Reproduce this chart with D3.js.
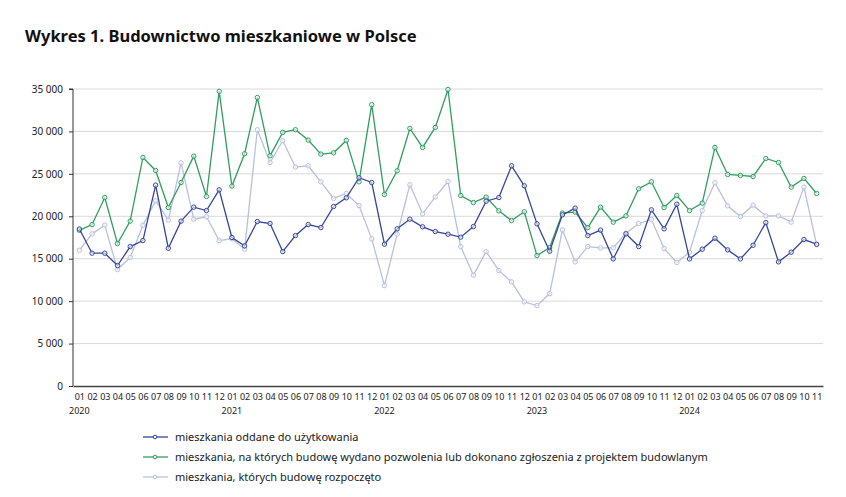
<!DOCTYPE html>
<html><head><meta charset="utf-8">
<script src="https://cdn.jsdelivr.net/npm/d3@7"></script>
<style>body{margin:0;background:#fff}svg{display:block}text{font-family:"Noto Sans","Open Sans",sans-serif}</style>
</head><body><svg id="c" width="846" height="497"></svg>
<script>
const years = [2020, 2021, 2022, 2023, 2024];
const months = [];
years.forEach(y => { for (let m = 1; m <= 12; m++) { if (y === 2024 && m > 11) break; months.push(y + "-" + String(m).padStart(2, "0")); } });

const oddane = [18500,15650,15650,14190,16430,17140,23670,16240,19430,21080,20680,23120,
  17500,16510,19380,19150,15840,17730,19030,18670,21150,22180,24540,23980,
  16710,18520,19660,18760,18200,17890,17540,18790,21780,22210,25950,23590,
  19110,15890,20170,20960,17730,18370,14980,17930,16430,20760,18520,21430,
  14980,16120,17420,16040,14980,16590,19260,14630,15770,17260,16710];
const pozwolenia = [18350,19030,22210,16790,19430,26930,25400,21030,23980,27090,22330,34720,
  23560,27370,34000,27130,29880,30200,28980,27330,27480,28940,24060,33150,
  22570,25360,30350,28110,30470,34950,22450,21620,22260,20640,19500,20530,
  15370,16310,20370,20490,18670,21080,19310,20050,23240,24060,21030,22450,
  20680,21550,28110,24930,24810,24690,26810,26340,23440,24460,22690];
const rozpoczete = [16000,17930,18950,13720,15140,18950,21820,19540,26300,19660,19940,17140,
  17350,16120,30200,26340,28900,25800,25950,24060,22100,22690,21270,17340,
  11830,17890,23710,20290,22290,24100,16430,13060,15840,13600,12270,9910,
  9470,10890,18400,14630,16430,16280,16290,18010,19150,19620,16200,14550,
  15770,20680,23950,21230,19970,21310,20050,20050,19310,23440,16630];
const yTicks = [0,5000,10000,15000,20000,25000,30000,35000];
const series = [
  {name:"mieszkania oddane do użytkowania", values: oddane, color:"#34479a"},
  {name:"mieszkania, na których budowę wydano pozwolenia lub dokonano zgłoszenia z projektem budowlanym", values: pozwolenia, color:"#2f9e5e"},
  {name:"mieszkania, których budowę rozpoczęto", values: rozpoczete, color:"#b9c0dd"}
];

const svg = d3.select("#c");
const L = 73, R = 823, T = 89, B = 386;
const x = d3.scalePoint().domain(months).range([L, R]).padding(0.5);
const y = d3.scaleLinear().domain([0, 35000]).range([B, T]);
const fmt = v => d3.format(",")(v).replace(/,/g, " ");

svg.append("text").attr("x", 25).attr("y", 42).attr("font-size", 16.5).attr("font-weight", 700)
  .attr("fill", "#111").text("Wykres 1. Budownictwo mieszkaniowe w Polsce");

// grid
svg.append("g").selectAll("line").data(yTicks.filter(d => d > 0)).join("line")
  .attr("x1", L).attr("x2", R).attr("y1", d => y(d)).attr("y2", d => y(d))
  .attr("stroke", "#d9d9d9").attr("stroke-width", 1);

// y axis
const ya = svg.append("g").attr("transform", `translate(${L},0)`)
  .call(d3.axisLeft(y).tickValues(yTicks).tickFormat(fmt).tickSize(4).tickPadding(6));
ya.select(".domain").attr("stroke", "#333").attr("d", `M-4,${T}H0V${B}`);
ya.selectAll(".tick line").attr("stroke", "#333");
ya.selectAll("text").attr("font-size", 10).attr("fill", "#222").style("font-family", '"Noto Sans",sans-serif');

// x axis
const xa = svg.append("g").attr("transform", `translate(0,${B})`)
  .call(d3.axisBottom(x).tickSize(0).tickPadding(8).tickFormat(d => d.slice(5)));
xa.select(".domain").attr("stroke", "#444").attr("stroke-width", 1.5);
xa.selectAll("text").attr("font-size", 9).attr("fill", "#222").style("font-family", '"Noto Sans",sans-serif');
svg.append("g").selectAll("text").data(years).join("text")
  .attr("x", d => x(d + "-01")).attr("y", 414).attr("text-anchor", "middle")
  .attr("font-size", 9).attr("fill", "#222").text(d => d);

// lines
const line = d3.line().x((d, i) => x(months[i])).y(d => y(d));
[2, 1, 0].forEach(k => {
  const s = series[k];
  const g = svg.append("g");
  g.append("path").attr("d", line(s.values)).attr("fill", "none").attr("stroke", s.color).attr("stroke-width", 1.3);
  g.selectAll("circle").data(s.values).join("circle")
    .attr("cx", (d, i) => x(months[i])).attr("cy", d => y(d)).attr("r", 2.2)
    .attr("fill", "#fff").attr("fill-opacity", 0.6).attr("stroke", s.color).attr("stroke-width", 1);
});

// legend
const lg = svg.append("g").selectAll("g").data(series).join("g")
  .attr("transform", (d, i) => `translate(143,${437 + i * 20})`);
lg.append("line").attr("x1", 0).attr("x2", 25).attr("stroke", d => d.color).attr("stroke-width", 1.3);
lg.append("circle").attr("cx", 12).attr("r", 1.8).attr("fill", "#fff").attr("stroke", d => d.color).attr("stroke-width", 1);
lg.append("text").attr("x", 32).attr("y", 4).attr("font-size", 11).attr("fill", "#222").text(d => d.name);
</script></body></html>
